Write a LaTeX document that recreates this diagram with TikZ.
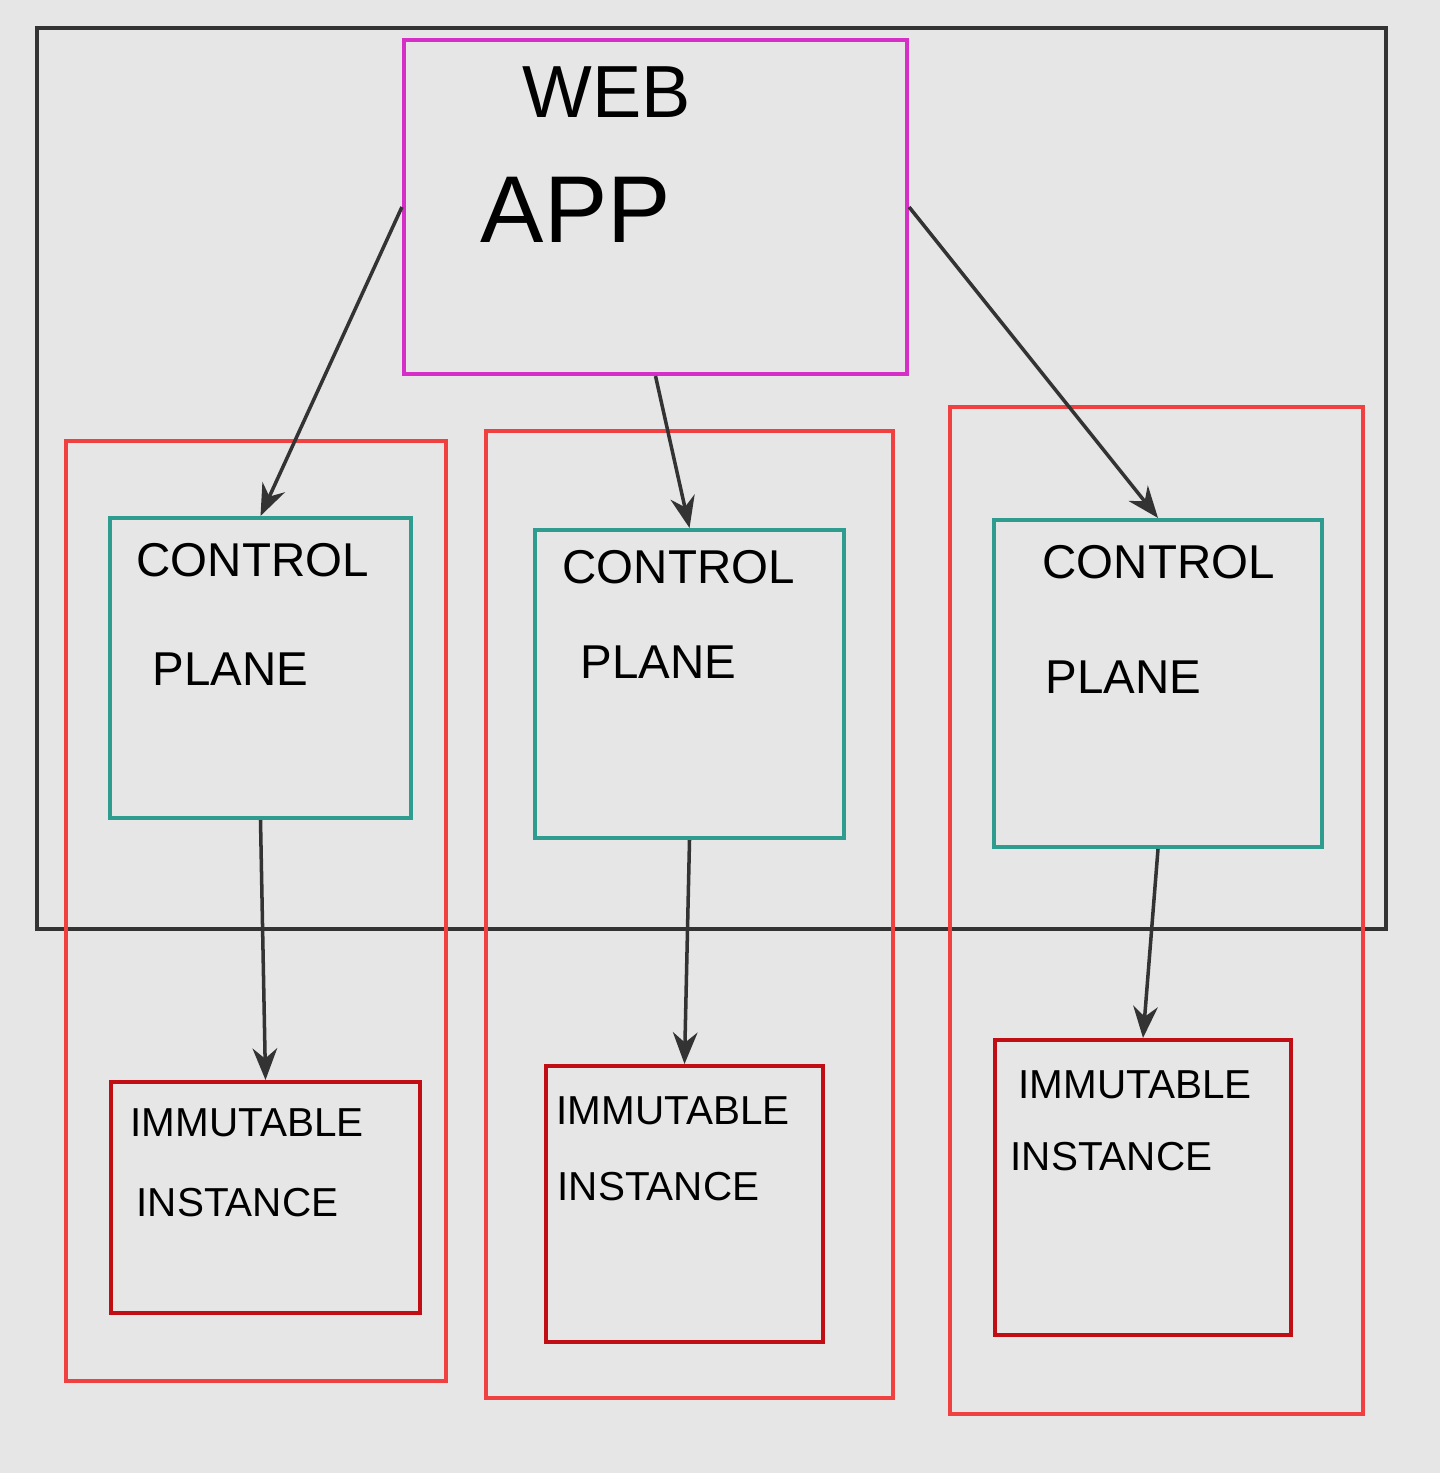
\documentclass[tikz,border=0pt]{standalone}
\usepackage{fontspec}
\setmainfont{Liberation Sans}
\usetikzlibrary{arrows.meta}
\definecolor{bgGray}{HTML}{E6E6E6}
\definecolor{webMag}{HTML}{D62FC8}
\definecolor{zoneRed}{HTML}{F04040}
\definecolor{cpTeal}{HTML}{2E9C8E}
\definecolor{instRed}{HTML}{C00E14}
\begin{document}
\begin{tikzpicture}[x=0.01cm, y=-0.01cm,
  box/.style={draw, line width=1.1pt, inner sep=0pt},
  lbl/.style={anchor=north west, inner sep=0pt},
  cpfont/.style={font=\fontsize{13.5}{15}\selectfont},
  infont/.style={font=\fontsize{11.5}{13}\selectfont},
  link/.style={draw=black!80, line width=1pt, -{Stealth[length=9pt,width=7pt]}}
  ]
  % canvas
  \fill[bgGray] (0,0) rectangle (1440,1473);
  \draw[black!80, line width=1.2pt] (37,28) rectangle (1386,929);
  % zones
  \draw[zoneRed, line width=1.1pt] (66,441) rectangle (446,1381);
  \draw[zoneRed, line width=1.1pt] (486,431) rectangle (893,1398);
  \draw[zoneRed, line width=1.1pt] (950,407) rectangle (1363,1414);
  % web app
  \node[box, draw=webMag, minimum width=5.03cm, minimum height=3.34cm] (web) at (655.5,207) {};
  \node[lbl, font=\fontsize{21}{23}\selectfont] (webtxt) at (522,66) {WEB};
  \node[lbl, font=\fontsize{27}{29}\selectfont] (apptxt) at (480,176) {APP};
  % control planes
  \node[box, draw=cpTeal, minimum width=3.01cm, minimum height=3.00cm] (cpA) at (260.5,668) {};
  \node[box, draw=cpTeal, minimum width=3.09cm, minimum height=3.08cm] (cpB) at (689.5,684) {};
  \node[box, draw=cpTeal, minimum width=3.28cm, minimum height=3.27cm] (cpC) at (1158,683.5) {};
  \node[lbl, cpfont] (cpAtop) at (136,543) {CONTROL};
  \node[lbl, cpfont] (cpAbot) at (152,652) {PLANE};
  \node[lbl, cpfont] (cpBtop) at (562,550) {CONTROL};
  \node[lbl, cpfont] (cpBbot) at (580,645) {PLANE};
  \node[lbl, cpfont] (cpCtop) at (1042,545) {CONTROL};
  \node[lbl, cpfont] (cpCbot) at (1045,660) {PLANE};
  % instances
  \node[box, draw=instRed, minimum width=3.09cm, minimum height=2.31cm] (instA) at (265.5,1197.5) {};
  \node[box, draw=instRed, minimum width=2.77cm, minimum height=2.76cm] (instB) at (684.5,1204) {};
  \node[box, draw=instRed, minimum width=2.96cm, minimum height=2.95cm] (instC) at (1143,1187.5) {};
  \node[lbl, infont] (instAtop) at (130,1108) {IMMUTABLE};
  \node[lbl, infont] (instAbot) at (136,1188) {INSTANCE};
  \node[lbl, infont] (instBtop) at (556,1096) {IMMUTABLE};
  \node[lbl, infont] (instBbot) at (557,1172) {INSTANCE};
  \node[lbl, infont] (instCtop) at (1018,1070) {IMMUTABLE};
  \node[lbl, infont] (instCbot) at (1010,1142) {INSTANCE};
  % connectors
  \draw[link] (web.west) -- (cpA.north);
  \draw[link] (web.south) -- (cpB.north);
  \draw[link] (web.east) -- (cpC.north);
  \draw[link] (cpA.south) -- (instA.north);
  \draw[link] (cpB.south) -- (instB.north);
  \draw[link] (cpC.south) -- (instC.north);
\end{tikzpicture}
\end{document}
